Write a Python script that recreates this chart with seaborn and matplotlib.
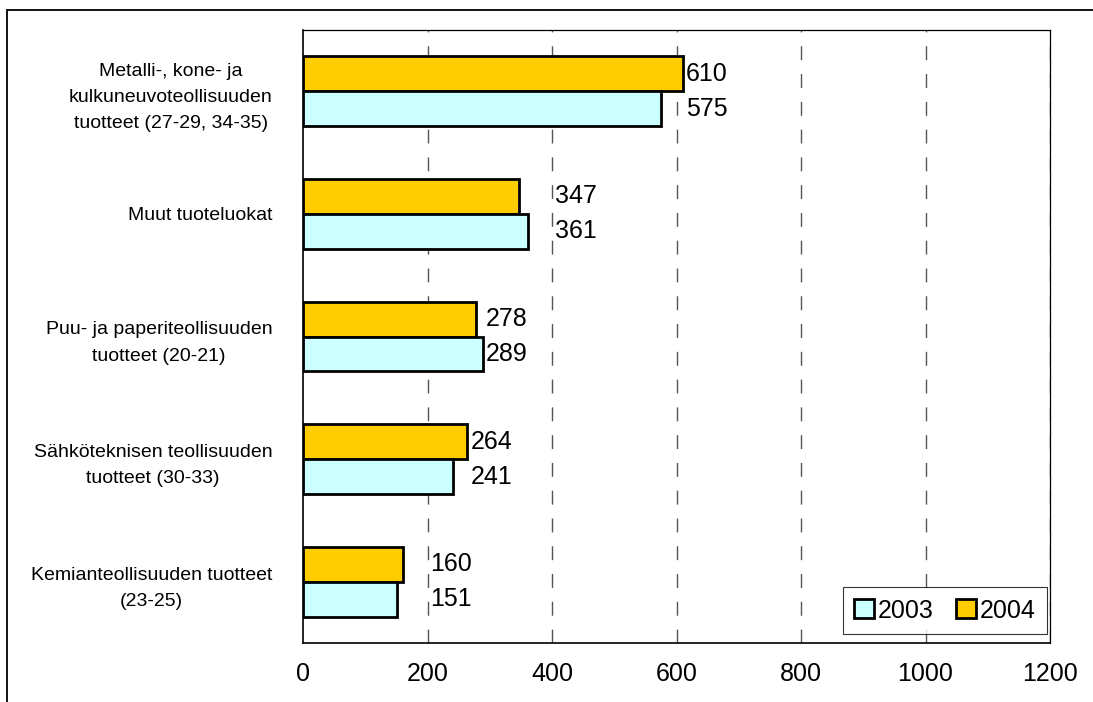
import matplotlib
matplotlib.use('Agg')
import matplotlib.pyplot as plt
import pandas as pd
import seaborn as sns
from matplotlib.patches import Patch, Rectangle

# ============================================================
# DATA
# ============================================================

categories = [
    'Metalli-, kone- ja\nkulkuneuvoteollisuuden\ntuotteet (27-29, 34-35)',
    'Muut tuoteluokat',
    'Puu- ja paperiteollisuuden\ntuotteet (20-21)',
    'Sähköteknisen teollisuuden\ntuotteet (30-33)',
    'Kemianteollisuuden tuotteet\n(23-25)',
]
values_2003 = [575, 361, 289, 241, 151]
values_2004 = [610, 347, 278, 264, 160]
x_ticks = [0, 200, 400, 600, 800, 1000, 1200]

colors = {'2003': '#CCFFFF', '2004': '#FFCC00'}

df = pd.DataFrame({
    'category': categories * 2,
    'year': ['2004'] * len(categories) + ['2003'] * len(categories),
    'value': values_2004 + values_2003,
})

# ============================================================
# PLOT
# ============================================================

sns.set_style('white')
plt.rcParams['font.family'] = ['Liberation Sans', 'DejaVu Sans']
plt.rcParams['text.color'] = 'black'
plt.rcParams['xtick.color'] = 'black'
plt.rcParams['ytick.color'] = 'black'

fig = plt.figure(figsize=(10.93, 7.02), dpi=100)
ax = fig.add_axes([303 / 1093, 1 - 643 / 702, 747 / 1093, 613 / 702])

sns.barplot(
    data=df, x='value', y='category', hue='year',
    hue_order=['2004', '2003'], order=categories,
    palette=colors, orient='h', width=0.57, gap=0,
    edgecolor='black', linewidth=2, saturation=1,
    legend=False, ax=ax, zorder=3,
)

ax.set_xlim(0, 1200)
ax.set_ylim(len(categories) - 0.5, -0.5)
ax.set_xticks(x_ticks)
ax.set_xticklabels([str(t) for t in x_ticks], fontsize=18)
ax.set_xlabel('')
ax.set_ylabel('')

# gridlines
for t in x_ticks[1:]:
    ax.axvline(t, color='#555555', lw=1, ls=(0, (10, 10)), zorder=1)

# y ticks at category boundaries, labels at centres
ax.set_yticks(range(len(categories)))
ax.set_yticklabels(categories, fontsize=14)
for lab in ax.get_yticklabels():
    lab.set_multialignment('center')
    lab.set_linespacing(1.7)
ax.set_yticks([i - 0.5 for i in range(len(categories) + 1)], minor=True)
ax.tick_params(axis='y', which='major', length=0, pad=22)
ax.tick_params(axis='y', which='minor', length=5, width=1, direction='out', color='black')
ax.tick_params(axis='x', length=6, width=1, direction='out', color='black', pad=8)

for side in ['left', 'bottom']:
    ax.spines[side].set_color('black')
    ax.spines[side].set_linewidth(1.2)
for side in ['top', 'right']:
    ax.spines[side].set_color('black')
    ax.spines[side].set_linewidth(0.9)

# value labels: right of the longer bar, moved past a gridline if they'd sit on one
for i in range(len(categories)):
    start = max(values_2003[i], values_2004[i]) + 5
    for g in x_ticks[1:]:
        if start < g < start + 75:
            start = g + 5
    ax.text(start, i - 0.143, str(values_2004[i]), va='center', ha='left', fontsize=18, zorder=4)
    ax.text(start, i + 0.143, str(values_2003[i]), va='center', ha='left', fontsize=18, zorder=4)

# legend
handles = [
    Patch(facecolor=colors['2003'], edgecolor='black', linewidth=2, label='2003'),
    Patch(facecolor=colors['2004'], edgecolor='black', linewidth=2, label='2004'),
]
leg = ax.legend(
    handles=handles, loc='lower right', ncol=2, fontsize=18,
    frameon=True, fancybox=False, handlelength=0.8, handleheight=0.8,
    handletextpad=0.15, columnspacing=0.9, borderpad=0.45, borderaxespad=0,
    bbox_to_anchor=(0.996, 0.015),
)
leg.get_frame().set_edgecolor('black')
leg.get_frame().set_linewidth(0.8)
leg.set_zorder(5)

# outer chart frame (crop of a larger chart)
fig.patches.append(Rectangle(
    (7 / 1093, -0.1), 1.2, 1 - 10 / 702 + 0.1,
    transform=fig.transFigure, fill=False, edgecolor='black', linewidth=1.3,
))

fig.savefig('out.png', dpi=100)
